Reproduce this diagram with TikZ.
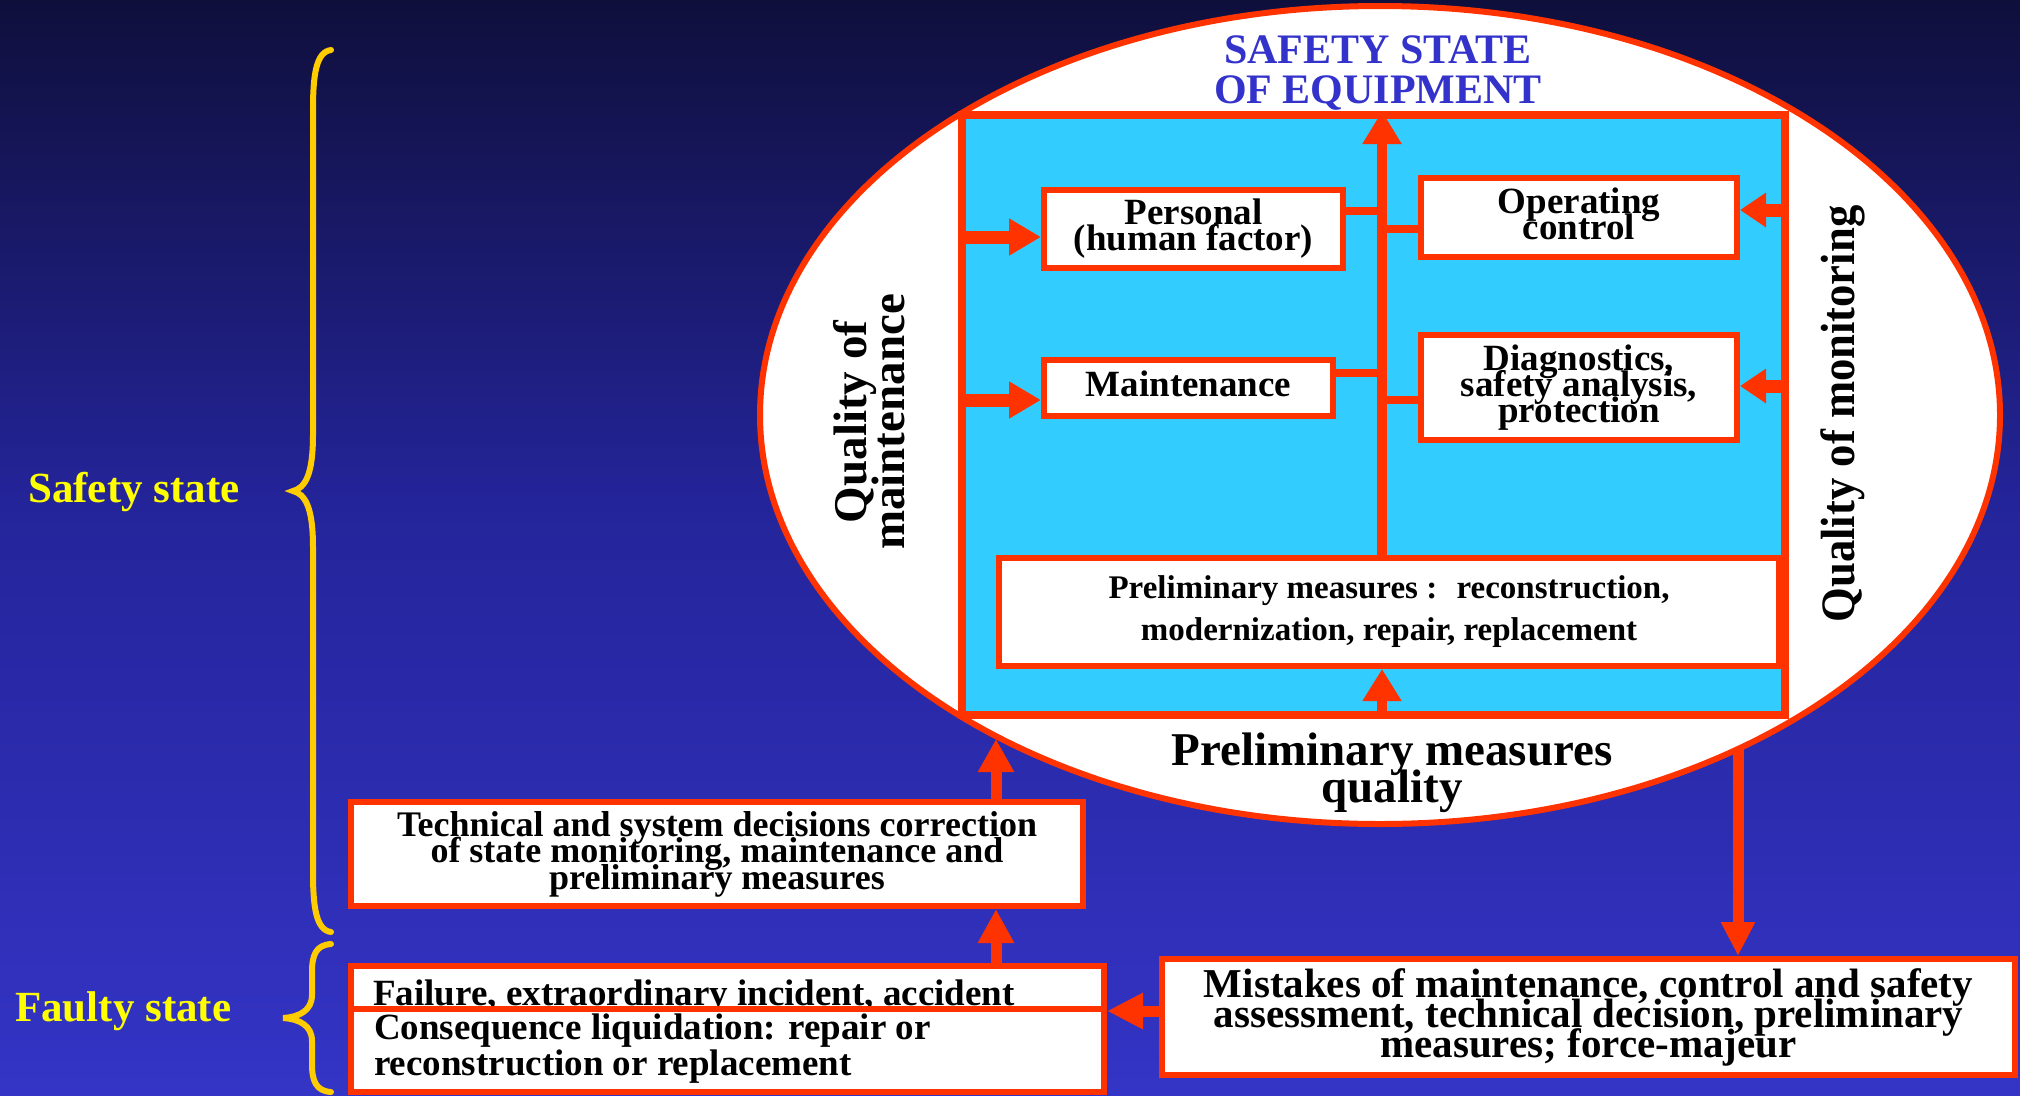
\documentclass[tikz,border=0pt]{standalone}
\usepackage{fontspec}
\setmainfont{Liberation Serif}
\newfontfamily\rotfont[FakeStretch=0.93]{Liberation Serif}
\usetikzlibrary{arrows.meta,shapes.geometric}
\definecolor{bgtop}{HTML}{0F0F3C}
\definecolor{bgmid}{HTML}{24249A}
\definecolor{bgbot}{HTML}{3434C6}
\definecolor{rd}{HTML}{FF3300}
\definecolor{sky}{HTML}{33CCFF}
\definecolor{ttl}{HTML}{3333CC}
\definecolor{brc}{HTML}{FFCC00}
\definecolor{ylw}{HTML}{FFFF00}
\pgfdeclareverticalshading{bgshade}{100bp}{color(0bp)=(bgbot); color(25bp)=(bgbot); color(52bp)=(bgmid); color(75bp)=(bgtop); color(100bp)=(bgtop)}
\tikzset{
  wbox/.style={draw=rd, fill=white, line width=6pt, inner sep=0pt, align=center, font=\fontsize{37}{26}\selectfont\bfseries},
  arr/.style={draw=rd, line width=#1, -{Triangle[length=34pt,width=36pt]}},
  arr/.default=13pt,
  link/.style={draw=rd, line width=8pt},
  curly/.style={draw=brc, line width=6pt, line cap=round},
  side/.style={text=ylw, inner sep=0pt, anchor=base west, font=\fontsize{43}{43}\selectfont\bfseries},
}
\begin{document}
\begin{tikzpicture}[x=1pt,y=-1pt]
\lineskiplimit=-1000pt\relax
\lineskip=0pt\relax
\shade[shading=bgshade] (0,0) rectangle (2020,1095);
\useasboundingbox (0,0) rectangle (2020,1095);

% braces and side labels
\draw[curly] (331,50) .. controls (316,52) and (313,75) .. (313,110) -- (313,435)
  .. controls (313,475) and (305,488) .. (293,491)
  .. controls (305,494) and (313,507) .. (313,547) -- (313,872)
  .. controls (313,907) and (316,930) .. (331,932);
\draw[curly] (331,944) .. controls (316,945) and (312,955) .. (312,972) -- (312,995)
  .. controls (312,1010) and (300,1017) .. (283,1018)
  .. controls (300,1019) and (312,1026) .. (312,1041) -- (312,1064)
  .. controls (312,1081) and (316,1091) .. (331,1092);
\node[side] (safe) at (28,502) {Safety state};
\node[side] (faulty) at (15,1021) {Faulty state};

% ellipse and inner panel
\node[ellipse, draw=rd, fill=white, line width=6pt, inner sep=0pt,
      minimum width=1240pt, minimum height=818pt] (ell) at (1380,415) {};
\node[draw=rd, fill=sky, line width=8pt, inner sep=0pt,
      minimum width=823pt, minimum height=600pt] (blue) at (1373.5,415) {};
\node[font=\fontsize{42}{40}\selectfont\bfseries, text=ttl, align=center] (title) at (1378,73) {SAFETY STATE\\OF EQUIPMENT};

% boxes inside
\node[wbox, minimum width=299pt, minimum height=78pt] (pers) at (1193.5,229) {Personal\\(human factor)};
\node[wbox, minimum width=316pt, minimum height=79pt] (op) at (1579,217.5) {Operating\\control\vphantom{(}};
\node[wbox, minimum width=289pt, minimum height=56pt] (maint) at (1188.5,388) {Maintenance\vphantom{p}};
\node[wbox, minimum width=316pt, minimum height=105pt] (diag) at (1579,387.5) {Diagnostics,\\safety analysis,\\protection};
\node[wbox, minimum width=780pt, minimum height=108pt, font=\fontsize{33}{42}\selectfont\bfseries] (prelim) at (1389,612) {\vphantom{(}Preliminary measures :~ reconstruction,\\modernization, repair, replacement};

% central line and arrows
\coordinate (cx) at (1382,0);
\coordinate (ya) at (0,237);
\coordinate (yb) at (0,400);
\coordinate (yc) at (0,210);
\coordinate (yd) at (0,386);
\coordinate (y1) at (0,211);
\coordinate (y2) at (0,229);
\coordinate (y3) at (0,373);
\coordinate (y4) at (0,400);
\draw[arr=10pt, -{Triangle[length=33pt,width=37pt]}] (prelim.north -| cx) -- (blue.north -| cx);
\draw[arr=10pt, -{Triangle[length=32pt,width=37pt]}] (blue.south -| cx) -- (prelim.south -| cx);
\draw[link] (pers.east |- y1) -- (cx |- y1);
\draw[link] (op.west |- y2) -- (cx |- y2);
\draw[link] (maint.east |- y3) -- (cx |- y3);
\draw[link] (diag.west |- y4) -- (cx |- y4);
\draw[arr, -{Triangle[length=32pt,width=35pt]}] (blue.west |- ya) -- (pers.west |- ya);
\draw[arr, -{Triangle[length=32pt,width=35pt]}] (blue.west |- yb) -- (maint.west |- yb);
\draw[arr, -{Triangle[length=26pt,width=33pt]}] (blue.east |- yc) -- (op.east |- yc);
\draw[arr, -{Triangle[length=26pt,width=33pt]}] (blue.east |- yd) -- (diag.east |- yd);

\node[font=\fontsize{47}{37}\selectfont\bfseries, align=center] (pq) at (1392,772.5) {Preliminary measures\\quality};

% lower boxes
\node[wbox, minimum width=732pt, minimum height=104pt, font=\fontsize{36}{26.5}\selectfont\bfseries] (tech) at (717,854) {Technical and system decisions correction\\of state monitoring, maintenance and\\preliminary measures};
\node[wbox, minimum width=753pt, minimum height=43pt] (fail) at (727.5,987.5) {};
\node[anchor=base west, inner sep=0pt, font=\fontsize{37}{36}\selectfont\bfseries] (failtxt) at (373,1005) {Failure, extraordinary incident, accident};
\node[wbox, minimum width=753pt, minimum height=83pt] (cons) at (727.5,1050.5) {};
\node[anchor=west, inner sep=0pt, align=left, font=\fontsize{37}{36}\selectfont\bfseries] (constxt) at (374,1049) {Consequence liquidation: repair or\\reconstruction or replacement};
\node[wbox, minimum width=853pt, minimum height=116pt, font=\fontsize{41}{30}\selectfont\bfseries] (mist) at (1588.5,1017) {Mistakes of maintenance, control and safety\\assessment, technical decision, preliminary\\measures; force-majeur};

% outer arrows
\coordinate (te) at (996,739);
\coordinate (em) at (1738,748);
\coordinate (mf) at (0,1011);
\draw[arr=11pt, -{Triangle[length=33pt,width=34pt]}] (tech.north -| te) -- (te);
\draw[arr=11pt, -{Triangle[length=34pt,width=34pt]}] (fail.north -| te) -- (tech.south -| te);
\draw[arr=11pt, -{Triangle[length=34pt,width=32pt]}] (em) -- (mist.north -| em);
\draw[arr=11pt, -{Triangle[length=36pt,width=34pt]}] (mist.west |- mf) -- (fail.east |- mf);

% rotated labels
\node[rotate=90, align=center, font=\fontsize{47}{38}\selectfont\bfseries] (qmain) at (869.5,422) {Quality of\\maintenance};
\node[rotate=90, font=\rotfont\fontsize{48}{48}\selectfont\bfseries] (qmon) at (1842.5,414) {Quality of monitoring};
\end{tikzpicture}
\end{document}
